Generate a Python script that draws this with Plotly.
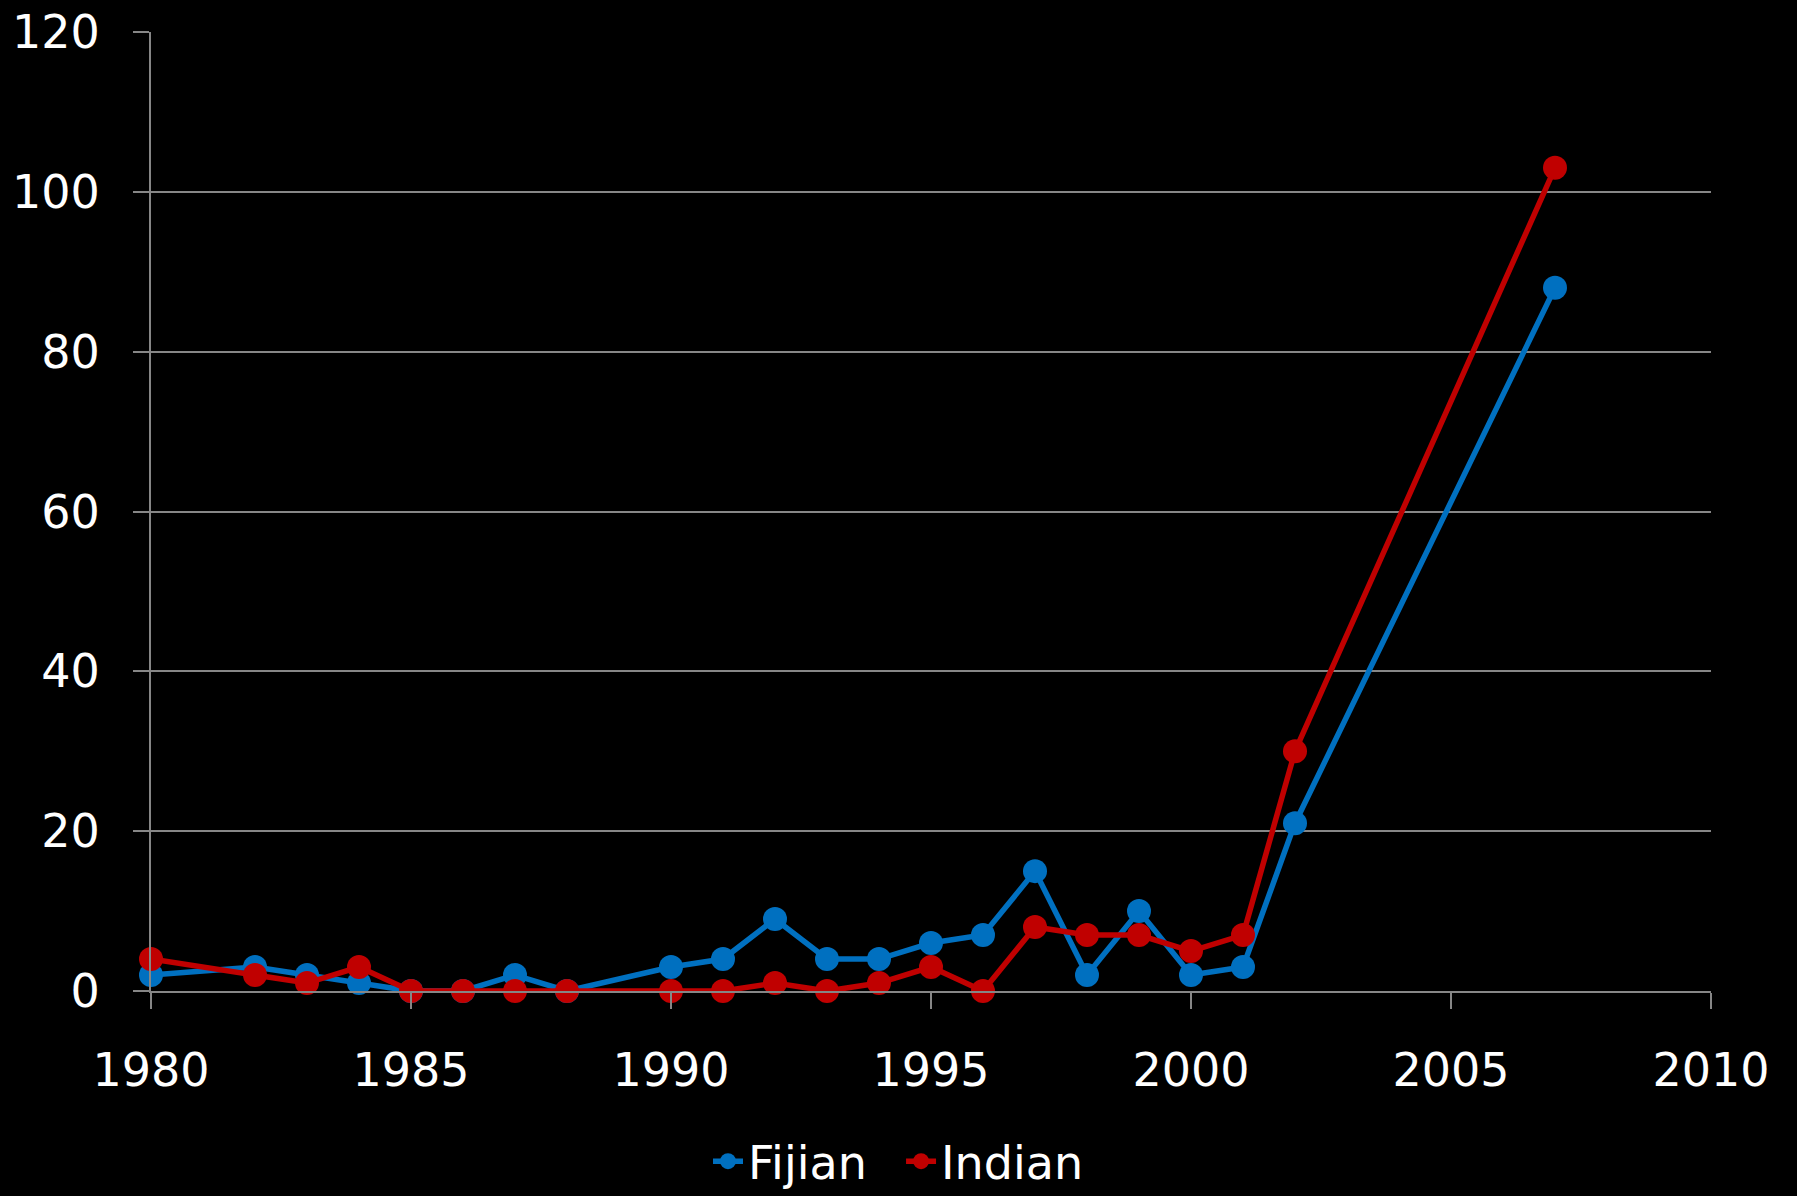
import plotly.graph_objects as go

years_fijian = [1980, 1982, 1983, 1984, 1985, 1986, 1987, 1988, 1990, 1991, 1992, 1993, 1994, 1995, 1996, 1997, 1998, 1999, 2000, 2001, 2002, 2007]
fijian = [2, 3, 2, 1, 0, 0, 2, 0, 3, 4, 9, 4, 4, 6, 7, 15, 2, 10, 2, 3, 21, 88]
years_indian = [1980, 1982, 1983, 1984, 1985, 1986, 1987, 1988, 1990, 1991, 1992, 1993, 1994, 1995, 1996, 1997, 1998, 1999, 2000, 2001, 2002, 2007]
indian = [4, 2, 1, 3, 0, 0, 0, 0, 0, 0, 1, 0, 1, 3, 0, 8, 7, 7, 5, 7, 30, 103]
x_ticks = [1980, 1985, 1990, 1995, 2000, 2005, 2010]
y_ticks = [0, 20, 40, 60, 80, 100, 120]

FONT = "Verdana, DejaVu Sans, sans-serif"
fig = go.Figure()
fig.add_trace(go.Scatter(x=years_fijian, y=fijian, name="Fijian  ", mode="lines+markers",
                         line=dict(color="#0070C0", width=5.5),
                         marker=dict(color="#0070C0", size=24), cliponaxis=False))
fig.add_trace(go.Scatter(x=years_indian, y=indian, name="Indian", mode="lines+markers",
                         line=dict(color="#C00000", width=5.5),
                         marker=dict(color="#C00000", size=24), cliponaxis=False))

fig.update_layout(
    width=1797, height=1196,
    paper_bgcolor="black", plot_bgcolor="black",
    margin=dict(l=151, r=86, t=32, b=205, autoexpand=False),
    font=dict(family=FONT, size=46, color="white"),
    showlegend=True,
    legend=dict(orientation="h", x=0.5, xref="container", xanchor="center",
                y=0.029, yref="container", yanchor="middle",
                font=dict(size=46, color="white"), bgcolor="rgba(0,0,0,0)",
                itemwidth=30, tracegroupgap=0),
    xaxis=dict(range=[1980, 2010], tickvals=x_ticks, showgrid=False, automargin=False,
               showline=True, linecolor="#868686", linewidth=2,
               ticks="outside", ticklen=16, tickcolor="#868686", tickwidth=2,
               zeroline=False, ticklabelstandoff=22),
    yaxis=dict(range=[0, 120], tickvals=y_ticks, showgrid=True, gridcolor="#868686", gridwidth=2,
               automargin=False,
               showline=True, linecolor="#868686", linewidth=2,
               ticks="outside", ticklen=16, tickcolor="#868686", tickwidth=2,
               zeroline=False, ticklabelstandoff=24),
)
fig.write_html("out.html", config={"displayModeBar": False},
               post_script="document.body.style.margin='0';document.body.style.background='black';")
